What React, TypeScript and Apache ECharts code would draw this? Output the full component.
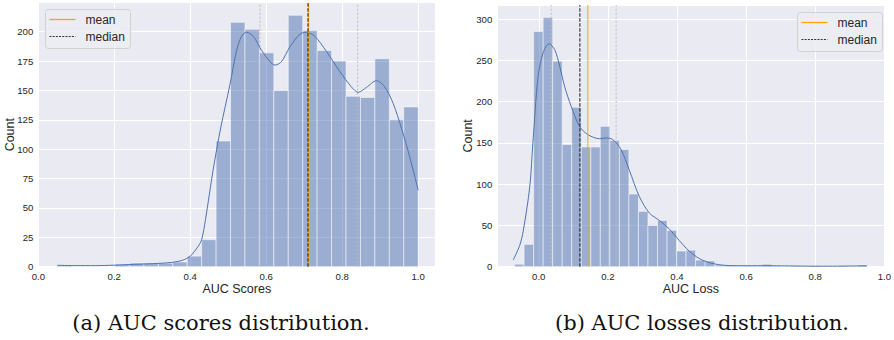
import React, { useEffect, useRef } from "react";
import * as echarts from "echarts";

// ---------- Left panel: AUC scores ----------
const leftBinStart = 0.05;
const leftBinWidth = 0.038;
const leftCounts = [1, 0, 0, 0, 2, 3, 3, 3, 4, 9, 23, 107, 208, 202, 182, 150, 214, 201, 184, 175, 145, 144, 177, 125, 136];
const leftKdeX = [0.05, 0.1, 0.15, 0.2, 0.25, 0.3, 0.35, 0.38, 0.4, 0.42, 0.43, 0.44, 0.46, 0.48, 0.5045, 0.522, 0.535, 0.548, 0.566, 0.588, 0.61, 0.623, 0.64, 0.662, 0.689, 0.706, 0.728, 0.759, 0.794, 0.825, 0.842, 0.864, 0.89, 0.912, 0.934, 0.956, 0.978, 1.0];
const leftKdeY = [1.2, 0.9, 0.9, 1.3, 2, 2.6, 3.6, 5.5, 9, 17, 23, 40, 82, 118, 155, 184, 196, 199.5, 196, 184, 174.5, 171.6, 174.5, 187, 198, 199.5, 196, 183, 166, 152.7, 148.4, 152.7, 158.3, 153, 139, 117.8, 93, 65];
const leftMean = 0.7116;
const leftMedian = 0.7098;
const leftQuartiles = [0.5834, 0.8405];

// ---------- Right panel: AUC losses ----------
const rightBinStart = -0.07;
const rightBinWidth = 0.02757;
const rightCounts = [3, 27, 285, 302, 249, 148, 193, 145, 145, 170, 153, 142, 88, 67, 50, 56, 44, 19, 20, 8, 7, 2, 2, 1, 1, 1, 3, 1, 0, 1, 0, 1, 0, 0, 1, 0, 2];
const rightKdeX = [-0.074, -0.055, -0.045, -0.026, -0.017, -0.002, 0.0124, 0.0297, 0.046, 0.0605, 0.075, 0.094, 0.118, 0.142, 0.176, 0.195, 0.214, 0.238, 0.262, 0.291, 0.32, 0.349, 0.377, 0.406, 0.435, 0.464, 0.493, 0.53, 0.58, 0.65, 0.7, 0.75, 0.8, 0.85, 0.9, 0.95];
const rightKdeY = [8, 26, 43, 97, 150, 230, 259, 270, 263, 243, 218, 194, 170, 160, 155, 156, 154, 142, 117, 85, 65, 56, 46, 32, 19, 10, 5, 2, 1.2, 1.2, 1, 0.8, 0.6, 0.6, 0.8, 1];
const rightMean = 0.142;
const rightMedian = 0.119;
const rightQuartiles = [0.036, 0.224];

// axis ranges
const leftXRange = [0, 1.045];
const rightXRange = [-0.12, 1.0];
const leftYMax = 224.7;
const rightYMax = 317;
const leftYStep = 25;
const rightYStep = 50;
const xTickStep = 0.2;

const legendLabels = ["mean", "median"];
const captions = ["(a) AUC scores distribution.", "(b) AUC losses distribution."];
const axisNames = { leftX: "AUC Scores", rightX: "AUC Loss", y: "Count" };

const TEXT = "#262626";
const SANS = "'Liberation Sans', Arial, sans-serif";
const BAR_FILL = "rgba(76,114,176,0.5)";
const KDE_COLOR = "#4c72b0";
const MEAN_COLOR = "#ffa500";
const MEDIAN_COLOR = "#1a1a1a";
const QUART_COLOR = "#bdbdbd";

function histData(start: number, width: number, counts: number[]) {
  return counts.map((c, i) => [start + i * width, start + (i + 1) * width, c]);
}

function kdeData(xs: number[], ys: number[]) {
  return xs.map((x, i) => [x, ys[i]]);
}

const tickFmt = (step: number, digits: number) => (v: number) => {
  const k = Math.round(v / step);
  return Math.abs(v - k * step) < 1e-6 ? (k * step).toFixed(digits) : "";
};

function renderBar(params: any, api: any) {
  const x0 = api.value(0);
  const x1 = api.value(1);
  const c = api.value(2);
  const p0 = api.coord([x0, c]);
  const p1 = api.coord([x1, 0]);
  return {
    type: "rect",
    shape: { x: p0[0], y: p0[1], width: p1[0] - p0[0], height: p1[1] - p0[1] },
    style: { fill: BAR_FILL, stroke: "rgba(255,255,255,0.5)", lineWidth: 1 },
  };
}

function vline(v: number, axisIdx: number, yMax: number, color: string, type: any, z: number) {
  return {
    type: "line",
    xAxisIndex: axisIdx,
    yAxisIndex: axisIdx,
    data: [[v, 0], [v, yMax]],
    z,
    silent: true,
    showSymbol: false,
    symbol: "none",
    color,
    lineStyle: { color, width: 1, type, opacity: 1 },
  };
}

function legendGraphic(x: number, y: number) {
  const font = `12px ${SANS}`;
  return [
    {
      type: "rect",
      shape: { x, y, width: 85, height: 39, r: 3 },
      style: { fill: "rgba(236,236,243,0.85)", stroke: "#d2d2d2", lineWidth: 1 },
      z: 50,
    },
    {
      type: "line",
      shape: { x1: x + 4, y1: y + 10, x2: x + 30, y2: y + 10 },
      style: { stroke: MEAN_COLOR, lineWidth: 1.3 },
      z: 51,
    },
    {
      type: "line",
      shape: { x1: x + 4, y1: y + 27, x2: x + 30, y2: y + 27 },
      style: { stroke: "#333333", lineWidth: 1, lineDash: [2, 1.2] },
      z: 51,
    },
    {
      type: "text",
      x: x + 40,
      y: y + 10,
      style: { text: legendLabels[0], fill: TEXT, font, verticalAlign: "middle", align: "left" },
      z: 51,
    },
    {
      type: "text",
      x: x + 40,
      y: y + 27,
      style: { text: legendLabels[1], fill: TEXT, font, verticalAlign: "middle", align: "left" },
      z: 51,
    },
  ];
}

function xAxisCfg(grid: number, range: number[], name: string, interval?: number) {
  const cfg: any = {
    type: "value",
    gridIndex: grid,
    min: range[0],
    max: range[1],
    axisLine: { show: false },
    axisTick: { show: false },
    axisLabel: { color: TEXT, fontSize: 9.6, fontFamily: SANS, margin: 5, formatter: tickFmt(xTickStep, 1) },
    splitLine: { show: true, lineStyle: { color: "#ffffff", width: 1 } },
    name,
    nameLocation: "middle",
    nameGap: 16,
    nameMoveOverlap: false,
    nameTextStyle: { color: TEXT, fontSize: 12.5, fontFamily: SANS },
  };
  if (interval !== undefined) cfg.interval = interval;
  else cfg.splitNumber = 5;
  return cfg;
}

function yAxisCfg(grid: number, max: number, interval: number, gap: number) {
  return {
    type: "value",
    gridIndex: grid,
    min: 0,
    max,
    interval,
    axisLine: { show: false },
    axisTick: { show: false },
    axisLabel: { color: TEXT, fontSize: 9.6, fontFamily: SANS, margin: 5, formatter: tickFmt(interval, 0) },
    splitLine: { show: true, lineStyle: { color: "#ffffff", width: 1 } },
    name: axisNames.y,
    nameLocation: "middle",
    nameGap: gap,
    nameMoveOverlap: false,
    nameTextStyle: { color: TEXT, fontSize: 12.5, fontFamily: SANS },
  };
}

export default function App() {
  const ref = useRef<HTMLDivElement>(null);

  useEffect(() => {
    if (!ref.current) return;
    const chart = echarts.init(ref.current, undefined, { renderer: "svg" });

    const option: any = {
      animation: false,
      backgroundColor: "#ffffff",
      grid: [
        { left: 38.3, top: 2.7, width: 397, height: 264, show: true, backgroundColor: "#eaeaf2", borderWidth: 0 },
        { left: 497.3, top: 5, width: 391, height: 261.7, show: true, backgroundColor: "#eaeaf2", borderWidth: 0 },
      ],
      xAxis: [
        xAxisCfg(0, leftXRange, axisNames.leftX, xTickStep),
        xAxisCfg(1, rightXRange, axisNames.rightX),
      ],
      yAxis: [yAxisCfg(0, leftYMax, leftYStep, 21.5), yAxisCfg(1, rightYMax, rightYStep, 22.5)],
      series: [
        {
          type: "custom",
          xAxisIndex: 0,
          yAxisIndex: 0,
          renderItem: renderBar,
          encode: { x: [0, 1], y: 2 },
          data: histData(leftBinStart, leftBinWidth, leftCounts),
          z: 2,
          silent: true,
        },
        {
          type: "custom",
          xAxisIndex: 1,
          yAxisIndex: 1,
          renderItem: renderBar,
          encode: { x: [0, 1], y: 2 },
          data: histData(rightBinStart, rightBinWidth, rightCounts),
          z: 2,
          silent: true,
        },
        ...leftQuartiles.map((q) => vline(q, 0, leftYMax, QUART_COLOR, [2, 2], 3)),
        ...rightQuartiles.map((q) => vline(q, 1, rightYMax, QUART_COLOR, [2, 2], 3)),
        {
          type: "line",
          xAxisIndex: 0,
          yAxisIndex: 0,
          data: kdeData(leftKdeX, leftKdeY),
          smooth: 0.3,
          showSymbol: false,
          symbol: "none",
          color: KDE_COLOR,
          lineStyle: { color: KDE_COLOR, width: 1 },
          z: 4,
          silent: true,
        },
        {
          type: "line",
          xAxisIndex: 1,
          yAxisIndex: 1,
          data: kdeData(rightKdeX, rightKdeY),
          smooth: 0.3,
          showSymbol: false,
          symbol: "none",
          color: KDE_COLOR,
          lineStyle: { color: KDE_COLOR, width: 1 },
          z: 4,
          silent: true,
        },
        vline(leftMean, 0, leftYMax, MEAN_COLOR, "solid", 5),
        vline(leftMedian, 0, leftYMax, MEDIAN_COLOR, [3.5, 1.5], 6),
        vline(rightMean, 1, rightYMax, MEAN_COLOR, "solid", 5),
        vline(rightMedian, 1, rightYMax, MEDIAN_COLOR, [3.5, 1.5], 6),
      ],
      graphic: [
        ...legendGraphic(45.5, 9.5),
        ...legendGraphic(797.5, 12.5),
        {
          type: "text",
          x: 221,
          y: 322.5,
          style: { text: captions[0], fill: "#111", font: "21px 'DejaVu Serif', serif", align: "center", verticalAlign: "middle" },
        },
        {
          type: "text",
          x: 702,
          y: 322.5,
          style: { text: captions[1], fill: "#111", font: "21px 'DejaVu Serif', serif", align: "center", verticalAlign: "middle" },
        },
      ],
    };

    chart.setOption(option);
    return () => chart.dispose();
  }, []);

  return (
    <div
      ref={ref}
      style={{ position: "fixed", left: 0, top: 0, width: 894, height: 340, background: "#fff" }}
    />
  );
}
